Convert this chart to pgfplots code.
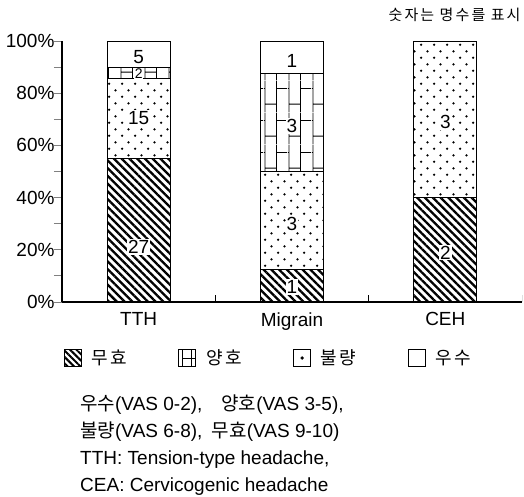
\documentclass[border=0pt]{standalone}
\usepackage{fontspec}
\setmainfont{Liberation Sans}
\newfontfamily\kr{Noto Sans CJK KR}
\newfontfamily\krsp[LetterSpace=14]{Noto Sans CJK KR}
\usepackage{pgfplots}
\pgfplotsset{compat=1.18}
\usepackage{pgfplotstable}
\usetikzlibrary{patterns,patterns.meta}

\pgfdeclarepatternformonly{sdots}{\pgfpointorigin}{\pgfpoint{13.3pt}{13.4pt}}{\pgfpoint{13.3pt}{13.4pt}}{%
 \pgfpathcircle{\pgfpoint{3.3pt}{3.35pt}}{1.35pt}%
 \pgfpathcircle{\pgfpoint{9.95pt}{10.05pt}}{1.35pt}%
 \pgfusepath{fill}}

\pgfdeclarepatternformonly{vbricks}{\pgfpointorigin}{\pgfpoint{24pt}{32pt}}{\pgfpoint{24pt}{32pt}}{%
 \pgfsetlinewidth{0.9pt}%
 \pgfpathmoveto{\pgfpoint{1pt}{0pt}}\pgfpathlineto{\pgfpoint{1pt}{32pt}}%
 \pgfpathmoveto{\pgfpoint{13pt}{0pt}}\pgfpathlineto{\pgfpoint{13pt}{32pt}}%
 \pgfpathmoveto{\pgfpoint{1pt}{8pt}}\pgfpathlineto{\pgfpoint{13pt}{8pt}}%
 \pgfpathmoveto{\pgfpoint{13pt}{24pt}}\pgfpathlineto{\pgfpoint{24pt}{24pt}}%
 \pgfpathmoveto{\pgfpoint{0pt}{24pt}}\pgfpathlineto{\pgfpoint{1pt}{24pt}}%
 \pgfusepath{stroke}}

% percent of patients in each class (counts: TTH 27/15/2/5, Migrain 1/3/3/1, CEH 2/3/0/0)
\pgfplotstableread{
x muhyo bullyang yangho usu
0 55.10 30.61 4.08 10.20
1 12.5 37.5 37.5 12.5
2 40 60 0 0
}\pct

\pgfplotstableread{
x y lab
0 21 27
0 70.4 15
0 94 5
1 5.8 1
1 30 3
1 67.5 3
1 92.5 1
2 19 2
2 69 3
}\labs

\tikzset{hatch/.style={pattern={Lines[angle=-45,distance=5.5pt,line width=2.3pt]}}}

\begin{document}
\begin{tikzpicture}
\path[use as bounding box] (-62pt,-194pt) rectangle (462pt,302pt);
\begin{axis}[
  scale only axis, width=460pt, height=261pt,
  xmin=-0.5, xmax=2.5, ymin=0, ymax=100,
  axis x line*=bottom, axis y line*=left,
  axis line style={line width=1.1pt},
  ybar stacked, bar width=63pt,
  xtick={0,1,2}, xticklabels={TTH,Migrain,CEH},
  xtick style={draw=none},
  ytick={0,20,40,60,80,100},
  yticklabels={0\%,20\%,40\%,60\%,80\%,100\%},
  minor ytick={10,30,50,70,90},
  tick align=inside,
  major tick length=8pt, minor tick length=8pt,
  ytick style={xshift=-8pt, line width=1pt},
  tick label style={font=\fontsize{19}{22}\selectfont},
  yticklabel style={xshift=-4pt},
  xticklabel style={yshift=-7pt},
  legend columns=4,
  legend cell align=left,
  legend style={at={(axis description cs:0,0)}, anchor=west, xshift=1pt, yshift=-56pt,
    draw=none, fill=none, inner sep=0pt, column sep=0pt, row sep=0pt,
    nodes={inner sep=0pt},
    font=\fontsize{18}{20}\selectfont\krsp},
]
\addlegendimage{legend image code/.code={\draw[line width=1pt, pattern={Lines[angle=-45,distance=4.5pt,line width=2pt]}] (0pt,-8.5pt) rectangle (17pt,8.5pt); \path (27pt,0pt);}}
\addlegendimage{legend image code/.code={\draw[line width=1pt] (0pt,-8.5pt) rectangle (17pt,8.5pt); \draw[line width=0.9pt] (4pt,-8.5pt)--(4pt,8.5pt) (4pt,0pt)--(17pt,0pt) (13pt,-8.5pt)--(13pt,8.5pt); \path (27pt,0pt);}}
\addlegendimage{legend image code/.code={\draw[line width=1pt] (0pt,-8.5pt) rectangle (17pt,8.5pt); \fill (8.5pt,0pt) circle (1.5pt); \path (27pt,0pt);}}
\addlegendimage{legend image code/.code={\draw[line width=1pt] (0pt,-8.5pt) rectangle (17pt,8.5pt); \path (27pt,0pt);}}
\legend{\makebox[87pt][l]{무효},\makebox[87pt][l]{양호},\makebox[87pt][l]{불량},\makebox[87pt][l]{우수}}

\addplot[draw=black, line width=1.1pt, hatch] table[x=x, y=muhyo] {\pct};
\addplot[draw=black, line width=1.1pt, pattern=sdots] table[x=x, y=bullyang] {\pct};
\addplot[draw=black, line width=1.1pt, pattern=vbricks] table[x=x, y=yangho] {\pct};
\addplot[draw=black, line width=1.1pt, fill=white] table[x=x, y=usu] {\pct};
\end{axis}

\begin{axis}[
  scale only axis, width=460pt, height=261pt,
  xmin=-0.5, xmax=2.5, ymin=0, ymax=100,
  hide axis,
]
% small separator ticks on the category axis
\addplot[ycomb, black, line width=1pt, mark=none] coordinates {(0.5,2.8) (1.5,2.8) (2.5,2.8)};
\addplot[only marks, mark=none, nodes near coords, point meta=explicit symbolic,
  every node near coord/.append style={anchor=center, fill=white, inner sep=1.2pt,
    font=\fontsize{19}{22}\selectfont}]
  table[x=x, y=y, meta=lab] {\labs};
\addplot[only marks, mark=none, nodes near coords, point meta=explicit symbolic,
  every node near coord/.append style={anchor=center, fill=white, inner sep=0.3pt,
    font=\fontsize{14}{14}\selectfont}]
  coordinates {(0,87.6) [2]};
\end{axis}

\node[anchor=east, font=\fontsize{15}{17}\selectfont\krsp] at (462pt,287pt) {숫자는 명수를 표시};

\node[anchor=north west, align=left, inner sep=0pt,
  font=\fontsize{19}{27}\selectfont] at (18pt,-93pt)
  {{\kr 우수}(VAS 0-2),\quad{\kr 양호}(VAS 3-5),\\
   {\kr 불량}(VAS 6-8),\enspace{\kr 무효}(VAS 9-10)\\
   TTH: Tension-type headache,\\
   CEA: Cervicogenic headache};
\end{tikzpicture}
\end{document}
